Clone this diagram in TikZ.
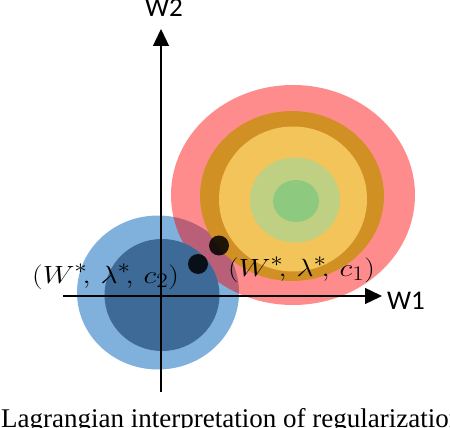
\documentclass[tikz,border=0pt]{standalone}
\usepackage{fontspec}
\setsansfont{Carlito}
\newfontfamily\capfont{Liberation Serif}
\usetikzlibrary{arrows.meta}
\definecolor{lblue}{RGB}{128,176,220}
\definecolor{dblue}{RGB}{61,106,150}
\definecolor{dorange}{RGB}{209,144,36}
\definecolor{yell}{RGB}{242,196,90}
\definecolor{lgreen}{RGB}{191,208,131}
\definecolor{green}{RGB}{141,201,127}
\tikzset{
  axis/.style={line width=1.4pt, -{Triangle[length=17pt,width=16pt]}},
  axlabel/.style={font=\sffamily\fontsize{27}{27}\selectfont, inner sep=0pt},
  ptlabel/.style={font=\fontsize{29}{29}\selectfont, inner sep=0pt, anchor=base west},
  dot/.style={circle, fill=black, fill opacity=0.85, minimum size=20pt, inner sep=0pt},
}
\newcommand{\ptlab}[1]{\scalebox{1.2}[1]{$(W^*\!,\,\lambda^*\!,\,c_{#1})$}}
\begin{document}
\begin{tikzpicture}[x=1pt,y=-1pt]
\useasboundingbox (0,0) rectangle (450,428);
\clip (0,0) rectangle (450,428);
% regions
\fill[lblue] (158,292.5) ellipse [x radius=81, y radius=77];
\fill[red, opacity=0.45] (293,195) ellipse [x radius=122, y radius=110];
\fill[dblue] (162,295) ellipse [x radius=57.5, y radius=56];
\fill[dorange] (292,196) ellipse [x radius=92, y radius=85];
\fill[yell] (293,199) ellipse [x radius=74, y radius=72.5];
\fill[lgreen] (295,200) ellipse [x radius=45, y radius=42.5];
\fill[green] (296,201) ellipse [x radius=23, y radius=21];
% axes
\coordinate (xs) at (63,296);
\coordinate (xe) at (382,296);
\coordinate (ys) at (161,392);
\coordinate (ye) at (161,29);
\draw[axis] (xs) -- (xe);
\draw[axis] (ys) -- (ye);
\node[axlabel, anchor=base west] (w1) at (387,309) {W1};
\node[axlabel, anchor=base] (w2) at (164,17) {W2};
% optimum points
\node[dot] (p1) at (219,245.5) {};
\node[dot] (p2) at (198,264) {};
\node[ptlabel] (l2) at (32,283) {\ptlab{2}};
\node[ptlabel] (l1) at (228,276) {\ptlab{1}};
% caption
\node[font=\capfont\fontsize{27}{27}\selectfont, anchor=base west, inner sep=0pt] (cap) at (1,427) {Lagrangian interpretation of regularization};
\end{tikzpicture}
\end{document}
